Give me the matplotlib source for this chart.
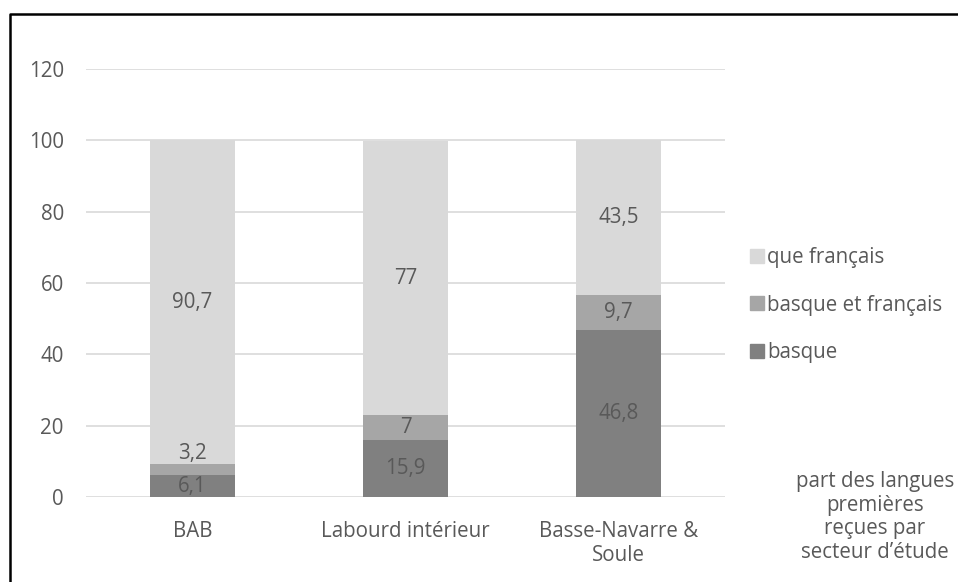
import numpy as np
import matplotlib.pyplot as plt
from matplotlib.lines import Line2D

plt.rcParams['font.family'] = ['Open Sans', 'DejaVu Sans']

# data
secteurs = ['BAB', 'Labourd intérieur', 'Basse-Navarre &\nSoule']
basque = [6.1, 15.9, 46.8]
basque_francais = [3.2, 7, 9.7]
que_francais = [90.7, 77, 43.5]

series = [('basque', basque, '#808080'),
          ('basque et français', basque_francais, '#A6A6A6'),
          ('que français', que_francais, '#D9D9D9')]

txt = '#595959'
fs = 14.8

fig = plt.figure(figsize=(9.58, 5.82), dpi=100)
ax = fig.add_axes([86 / 958, 1 - 497 / 582, 639 / 958, 428 / 582])

x = np.arange(len(secteurs))
bottom = np.zeros(len(secteurs))
handles = []
for name, vals, col in series:
    vals = np.array(vals)
    ax.bar(x, vals, 0.4, bottom=bottom, color=col, zorder=2)
    for xi, b, v in zip(x, bottom, vals):
        lab = ('%g' % v).replace('.', ',')
        if v < 5:
            # too thin: put the label just above the segment
            ax.text(xi, b + v, lab, ha='center', va='bottom', fontsize=fs, color=txt, zorder=3)
        else:
            ax.text(xi, b + v / 2, lab, ha='center', va='center', fontsize=fs, color=txt, zorder=3)
    bottom += vals
    handles.append(Line2D([], [], marker='s', linestyle='none', markersize=10,
                          markerfacecolor=col, markeredgecolor=col, label=name))

ax.set_xlim(-0.5, len(secteurs) - 0.5)
ax.set_ylim(0, 120)
ax.set_yticks(np.arange(0, 121, 20))
ax.set_xticks(x)
ax.set_xticklabels(secteurs, linespacing=1.2)
ax.grid(axis='y', color='#D9D9D9', linewidth=1.2, zorder=0)
for s in ax.spines.values():
    s.set_visible(False)
ax.tick_params(length=0, labelsize=fs, labelcolor=txt)
ax.tick_params(axis='y', pad=16)
ax.tick_params(axis='x', pad=17)

fig.legend(handles=handles[::-1], loc='center left', bbox_to_anchor=(738 / 958, 1 - 305 / 582),
           frameon=False, fontsize=fs, labelcolor=txt, handletextpad=0.0,
           labelspacing=1.3, handlelength=1.0, borderaxespad=0)

fig.text(875 / 958, 1 - 517 / 582, 'part des langues\npremières\nreçues par\nsecteur d\u2019étude',
         ha='center', va='center', fontsize=fs, color=txt, linespacing=1.17)

# outer frame (left and top edges)
fig.add_artist(Line2D([9.5 / 958, 9.5 / 958, 1.0], [0.0, 1 - 13.5 / 582, 1 - 13.5 / 582],
                      transform=fig.transFigure, color='black', linewidth=1.8))

fig.savefig('out.png', dpi=100)
